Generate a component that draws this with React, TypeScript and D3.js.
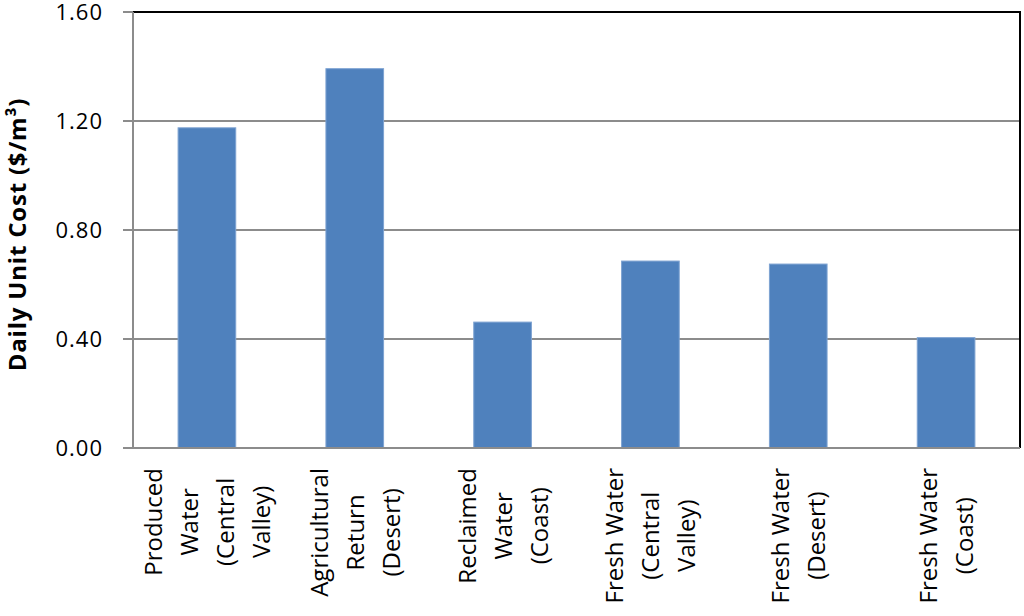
import React, { useEffect, useRef } from "react";
import * as d3 from "d3";

const categories: string[][] = [
  ["Produced", "Water", "(Central", "Valley)"],
  ["Agricultural", "Return", "(Desert)"],
  ["Reclaimed", "Water", "(Coast)"],
  ["Fresh Water", "(Central", "Valley)"],
  ["Fresh Water", "(Desert)"],
  ["Fresh Water", "(Coast)"],
];
const values: number[] = [1.175, 1.392, 0.462, 0.686, 0.675, 0.405];
const yTicks: number[] = [0, 0.4, 0.8, 1.2, 1.6];
const yTitle = "Daily Unit Cost ($/m³)";

const W = 1024;
const H = 616;
const left = 133;
const right = 1020;
const top = 12;
const bottom = 448;
const FONT = "'Open Sans', sans-serif";

export default function App() {
  const ref = useRef<SVGSVGElement>(null);

  useEffect(() => {
    const svg = d3.select(ref.current);
    svg.selectAll("*").remove();

    const x = d3
      .scaleBand<number>()
      .domain(categories.map((_, i) => i))
      .range([left, right])
      .paddingInner(0.61)
      .paddingOuter(0.305);
    const y = d3.scaleLinear().domain([0, 1.6]).range([bottom, top]);

    svg.append("rect").attr("width", W).attr("height", H).attr("fill", "#fff");

    // gridlines
    svg
      .append("g")
      .selectAll("line")
      .data(yTicks.filter((t) => t > 0 && t < 1.6))
      .join("line")
      .attr("x1", left)
      .attr("x2", right)
      .attr("y1", (d) => y(d))
      .attr("y2", (d) => y(d))
      .attr("stroke", "#8c8c8c")
      .attr("stroke-width", 2);

    // border top / right
    svg
      .append("path")
      .attr("d", `M${left},${y(1.6)}H${right}V${bottom}`)
      .attr("fill", "none")
      .attr("stroke", "#000")
      .attr("stroke-width", 2);

    // bars
    svg
      .append("g")
      .selectAll("rect")
      .data(values)
      .join("rect")
      .attr("x", (_, i) => x(i)!)
      .attr("width", x.bandwidth())
      .attr("y", (d) => y(d))
      .attr("height", (d) => bottom - y(d))
      .attr("fill", "#4F81BD")
      .attr("stroke", "#7ea3d2")
      .attr("stroke-width", 1);

    // axes
    svg
      .append("line")
      .attr("x1", left)
      .attr("x2", right)
      .attr("y1", bottom)
      .attr("y2", bottom)
      .attr("stroke", "#8c8c8c")
      .attr("stroke-width", 2);
    svg
      .append("line")
      .attr("x1", left)
      .attr("x2", left)
      .attr("y1", top)
      .attr("y2", bottom)
      .attr("stroke", "#8c8c8c")
      .attr("stroke-width", 2);

    // y ticks
    const yt = svg.append("g").selectAll("g").data(yTicks).join("g");
    yt.append("line")
      .attr("x1", left - 10)
      .attr("x2", left)
      .attr("y1", (d) => y(d))
      .attr("y2", (d) => y(d))
      .attr("stroke", "#8c8c8c")
      .attr("stroke-width", 2);
    yt.append("text")
      .attr("x", 103)
      .attr("y", (d) => y(d) + 8)
      .attr("text-anchor", "end")
      .attr("font-family", FONT)
      .attr("font-size", 22)
      .attr("letter-spacing", 1)
      .attr("fill", "#000")
      .text((d) => d3.format(".2f")(d));

    // y title
    svg
      .append("text")
      .attr("transform", `translate(26,234.5) rotate(-90)`)
      .attr("text-anchor", "middle")
      .attr("font-family", FONT)
      .attr("font-weight", "bold")
      .attr("font-size", 24)
      .attr("letter-spacing", 0.8)
      .attr("fill", "#000")
      .text(yTitle);

    // category labels
    const lineGap = 36;
    categories.forEach((lines, i) => {
      const cx = x(i)! + x.bandwidth() / 2;
      const g = svg.append("g");
      const texts = g
        .selectAll("text")
        .data(lines)
        .join("text")
        .attr("text-anchor", "middle")
        .attr("font-family", FONT)
        .attr("font-size", 24)
        .attr("fill", "#000")
        .text((d) => d);
      let maxW = 0;
      texts.each(function () {
        const w = (this as SVGTextElement).getComputedTextLength();
        if (w > maxW) maxW = w;
      });
      const cy = 468 + maxW / 2;
      texts.attr("transform", (_, j) => {
        const bx = cx + (j - (lines.length - 1) / 2) * lineGap + 9;
        return `translate(${bx},${cy}) rotate(-90)`;
      });
    });
  }, []);

  return (
    <svg
      ref={ref}
      width={W}
      height={H}
      style={{ position: "absolute", left: 0, top: 0, display: "block" }}
    />
  );
}
